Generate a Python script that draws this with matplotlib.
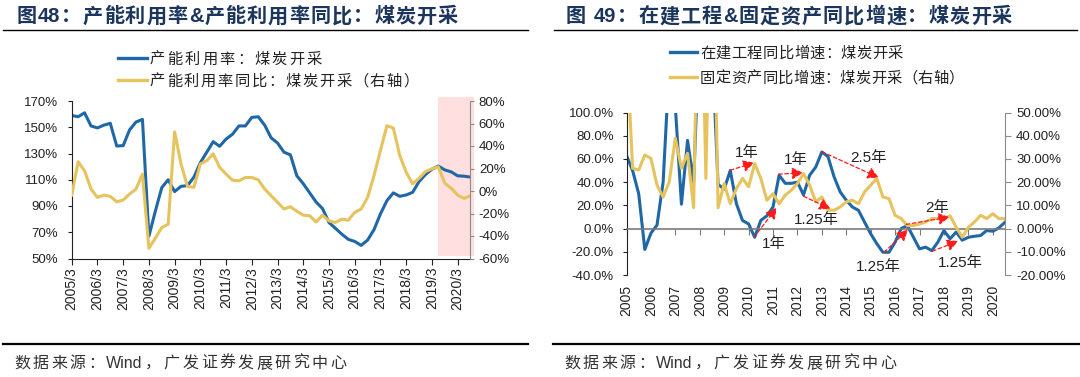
import re
import matplotlib
matplotlib.use('Agg')
import matplotlib.pyplot as plt
import matplotlib.transforms as mtransforms
from matplotlib.lines import Line2D
from matplotlib.patches import Rectangle
import numpy as np

FONT = ['Liberation Sans', 'Noto Sans CJK SC', 'DejaVu Sans']
plt.rcParams['font.family'] = FONT

W, H = 1080, 377
BLUE = '#1f67a6'
GOLD = '#e6c35c'
GREY = '#8c8c8c'
INK = '#222222'

# ---- data: quarterly, 2005Q1 .. 2020Q3 ----
# fig 48, left axis: capacity utilisation (%)
util_rate = [159, 158, 161, 151, 149.5, 151.6, 153, 135.7, 136, 148, 154, 156,
             67, 86, 104, 110, 101, 105, 105.5, 112, 123, 131, 139, 135.5,
             141, 144.7, 151, 151, 157.5, 158, 151.6, 142, 138, 131, 129, 113,
             107, 100, 93, 88, 77.4, 73, 68.5, 64.6, 63, 60, 64, 72,
             84, 94, 100, 97.4, 98.4, 100.4, 108.6, 114, 118, 120.4, 117.5, 116,
             113, 112.7, 112]
# fig 48, right axis: utilisation yoy (%)
util_yoy = [-3.6, 26, 18, 1.8, -5.7, -3.6, -4.8, -9.6, -8, -2.7, 1.8, 15,
            -51, -42, -32.5, -29.5, 52.5, 24, 4, 3.3, 24, 27, 33, 21,
            15, 9.6, 9, 12, 12, 10, 1.8, -4.2, -10, -16, -14, -18,
            -21.5, -22, -27.5, -21.5, -26.6, -28, -25, -26, -19, -16, -5.7, 13.7,
            36, 58, 56, 31.6, 16.7, 6.3, 11.3, 17.3, 19.7, 21.5, 7, 2.4,
            -3.6, -6.6, -4.2]
# fig 49, left axis: construction in progress yoy (%)
cip_yoy = [63, 50, 30, -18, -4, 3, 40, 140, 105, 21, 76, 40,
           180, 220, 160, 38, 34, 50, 21.5, 7, 4, -7.5, 7, 11,
           18.6, 46, 39, 39, 40, 29, 46, 53, 66, 62, 44.6, 31.6,
           24.4, 18.6, 15.7, 5.5, -4.5, -13, -20.4, -20.4, -11.7, 0, 2.6, -7.5,
           -17.5, -16, -19, -11.7, -1.7, -8.8, -3, -10, -7.5, -6.6, -6, -1.7,
           -2.3, 0.6, 5.5]
# fig 49, right axis: fixed assets yoy (%)
fa_yoy = [80, 26, 25.2, 31.7, 30.2, 18.7, 13.6, 20.1, 38.9, 26, 32.4, 9,
          150, 21.6, 150, 9, 19.4, 10.7, 17.2, 21.6, 18, 28, 21.6, 12.2,
          15, 10.7, 14.4, 16.5, 19.4, 23.7, 18.7, 11.5, 13.6, 7.9, 7.9, 9.3,
          11.5, 12.2, 10.7, 15.8, 18.7, 21.6, 13.6, 12.9, 5.7, 4.3, 1.3, 1.3,
          2, 2.8, 4.3, 4.3, 4.3, 5.5, 0.6, -3.7, 0.6, 2.8, 5.7, 4.3,
          6.4, 4.3, 4.3]

left_xlabels = [f'{y}/3' for y in range(2005, 2021)]
right_xlabels = [str(y) for y in range(2005, 2021)]

# lead-lag arrows on fig 49: (from quarter, from %, to quarter, to %) in left-axis units
lag_arrows = [(17.0, 50.3, 20.9, 56.7), (20.9, -7.4, 24.6, 18.0),
              (24.9, 46.9, 28.9, 48.0), (29.0, 27.8, 33.4, 17.1),
              (32.0, 66.2, 41.3, 44.0), (42.2, -20.4, 46.1, -1.0),
              (45.8, 3.6, 52.9, 9.9), (50.1, -19.5, 54.3, -10.9)]
lag_labels = ['1年', '1年', '1年', '1.25年', '2.5年', '1.25年', '2年', '1.25年']
lag_label_pos = [(19.7, 65.4), (24.2, -13.7), (27.8, 59), (31.1, 7.0),
                 (39.6, 60.4), (41.2, -33.4), (50.8, 18.0), (54.6, -29.9)]

fig = plt.figure(figsize=(W / 100, H / 100), dpi=100)
fig.patch.set_facecolor('white')


def spaced(x0, x1, yc, s, size, **kw):
    """write s so it fills pixel span x0..x1, vertically centred on yc"""
    chunks = re.findall(r'[!-~]+|.', s)
    base = yc + 0.37 * size * 100 / 72
    texts = [fig.text(0, 1 - base / H, c, fontsize=size, va='baseline', ha='left', **kw)
             for c in chunks]
    r = fig.canvas.get_renderer()
    widths = [t.get_window_extent(r).width for t in texts]
    gap = (x1 - x0 - sum(widths)) / max(len(chunks) - 1, 1)
    x = x0
    for t, w in zip(texts, widths):
        t.set_x(x / W)
        x += w + gap


def hline(x0, x1, y, lw, color='black'):
    fig.add_artist(Line2D([x0 / W, x1 / W], [1 - y / H] * 2, color=color, lw=lw))


# ---------------- fig 48 ----------------
q = np.arange(len(util_rate))
ax1 = fig.add_axes([71.7 / W, 1 - 258.5 / H, 398.8 / W, 157.5 / H])
ax1r = ax1.twinx()
trans = mtransforms.blended_transform_factory(ax1.transData, ax1.transAxes)
ax1.add_patch(Rectangle((57, 0.018), 5.55, 1.009, transform=trans, color='#ffdfe0',
                        lw=0, zorder=0, clip_on=False))
ax1.plot(q, util_rate, color=BLUE, lw=2.2, zorder=2)
ax1r.plot(q, util_yoy, color=GOLD, lw=2.2)

ax1.set_xlim(0, 62)
ax1.set_ylim(50, 170)
ax1r.set_ylim(-60, 80)
ax1.set_yticks(range(50, 171, 20), labels=[f'{v}%' for v in range(50, 171, 20)])
ax1r.set_yticks(range(-60, 81, 20), labels=[f'{v}%' for v in range(-60, 81, 20)])
ax1.set_xticks(range(0, 61, 4), labels=left_xlabels)
ax1.tick_params(axis='y', length=3, pad=7, labelsize=9.5, colors=INK)
ax1.tick_params(axis='x', length=4, pad=2, labelsize=10, rotation=90, colors=INK)
ax1r.tick_params(axis='y', length=3, pad=3, labelsize=9.5, color=GREY, labelcolor=INK)
for a in (ax1, ax1r):
    a.spines['top'].set_visible(False)
ax1.spines['right'].set_visible(False)
ax1r.spines['left'].set_visible(False)
ax1r.spines['bottom'].set_visible(False)
ax1r.spines['right'].set_color(GREY)
ax1.spines['left'].set_color(INK)
ax1.spines['bottom'].set_color(INK)

# ---------------- fig 49 ----------------
ax2 = fig.add_axes([626.5 / W, 1 - 275 / H, 378.5 / W, 162.5 / H])
ax2r = ax2.twinx()
ax2.plot(q, cip_yoy, color=BLUE, lw=2.2)
ax2r.plot(q, fa_yoy, color=GOLD, lw=2.2)
ax2.set_xlim(0, 62)
ax2.set_ylim(-40, 100)
ax2r.set_ylim(-20, 50)
ax2.set_yticks(range(-40, 101, 20), labels=[f'{v:.1f}%' for v in range(-40, 101, 20)])
ax2r.set_yticks(range(-20, 51, 10), labels=[f'{v:.2f}%' for v in range(-20, 51, 10)])
ax2.spines['bottom'].set_position(('data', 0))
ax2.spines['bottom'].set_color('#7a7a7a')
ax2.spines['bottom'].set_linewidth(1.2)
ax2.set_xticks(range(0, 61, 4))
ax2.tick_params(axis='x', length=4, color='#7a7a7a', labelbottom=False)
ax2.tick_params(axis='y', length=3, pad=6, labelsize=9.5, colors=INK)
ax2r.tick_params(axis='y', length=4, pad=4, labelsize=9.5, color=GREY, labelcolor=INK)
sec = ax2.secondary_xaxis(0)
sec.set_xticks(range(0, 61, 4), labels=right_xlabels)
sec.tick_params(length=0, pad=7, labelsize=10, rotation=90, colors=INK)
sec.spines['bottom'].set_visible(False)
for a in (ax2, ax2r):
    a.spines['top'].set_visible(False)
ax2.spines['right'].set_visible(False)
ax2r.spines['left'].set_visible(False)
ax2r.spines['bottom'].set_visible(False)
ax2r.spines['right'].set_color(GREY)
ax2.spines['left'].set_color(INK)

for (x0, y0, x1, y1) in lag_arrows:
    ax2r.annotate('', xy=(x1, y1), xytext=(x0, y0),
                  xycoords=ax2.transData, textcoords=ax2.transData,
                  arrowprops=dict(arrowstyle='-|>,head_length=0.55,head_width=0.3',
                                  color='#ff1a1a', lw=0.9, ls=(0, (3, 2)),
                                  shrinkA=0, shrinkB=0, mutation_scale=12))
for s, (x, y) in zip(lag_labels, lag_label_pos):
    ax2r.text(x, y, s, transform=ax2.transData, ha='center', va='center',
              fontsize=11, color=INK)

# ---------------- titles, legends, notes ----------------
NAVY = '#1b355c'
spaced(16.6, 458, 15, '图48：产能利用率&产能利用率同比：煤炭开采', 14.5,
       color=NAVY, fontweight='bold')
spaced(566, 1012, 15, '图 49：在建工程&固定资产同比增速：煤炭开采', 14.5,
       color=NAVY, fontweight='bold')
hline(3, 528, 30, 1.0)
hline(554, 1077, 30, 1.0)

hline(118, 147, 58, 2.4, BLUE)
hline(118, 147, 80, 2.4, GOLD)
spaced(150, 322, 58, '产能利用率：煤炭开采', 11, color=INK)
spaced(150, 419, 80, '产能利用率同比：煤炭开采（右轴）', 11, color=INK)

hline(670, 697, 52, 2.4, BLUE)
hline(670, 697, 77, 2.4, GOLD)
spaced(700, 903, 52, '在建工程同比增速：煤炭开采', 11, color=INK)
spaced(700, 964, 77, '固定资产同比增速：煤炭开采（右轴）', 11, color=INK)

hline(3, 528, 344, 1.6)
hline(553, 1080, 344, 1.6)
spaced(14, 346, 362, '数据来源：Wind，广发证券发展研究中心', 11.5, color='#333333')
spaced(564, 896, 362, '数据来源：Wind，广发证券发展研究中心', 11.5, color='#333333')

fig.savefig('out.png', dpi=100)
